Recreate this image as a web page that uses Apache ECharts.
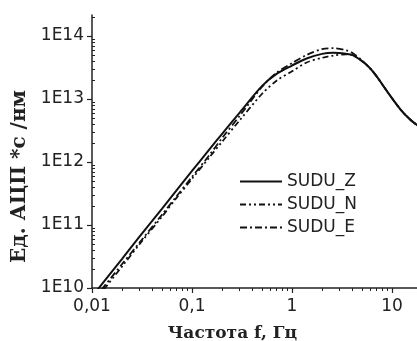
<!DOCTYPE html>
<html>
<head>
<meta charset="utf-8">
<script src="https://cdn.jsdelivr.net/npm/echarts@6/dist/echarts.min.js"></script>
<style>
  html, body { margin: 0; padding: 0; background: #fff; }
  #chart { width: 417px; height: 341px; }
</style>
</head>
<body>
<div id="chart"></div>
<script>
// frequency, Hz
const freq = [0.01, 0.02, 0.03, 0.05, 0.07, 0.1, 0.15, 0.2, 0.3, 0.5, 0.7, 1, 1.4, 2, 2.6, 3.5, 4, 5, 6, 7, 9, 12, 15, 18]
const sudZ = [7.3e9, 2.9e10, 6.6e10, 1.8e11, 3.55e11, 7.2e11, 1.6e12, 2.8e12, 6.1e12, 1.6e13, 2.5e13, 3.4e13, 4.4e13, 5.2e13, 5.4e13, 5.2e13, 5.0e13, 4.0e13, 3.1e13, 2.3e13, 1.3e13, 7.0e12, 4.8e12, 3.8e12]
const sudN = [5.5e9, 2.2e10, 5.0e10, 1.35e11, 2.7e11, 5.4e11, 1.2e12, 2.1e12, 4.6e12, 1.2e13, 1.95e13, 2.75e13, 3.8e13, 4.5e13, 4.9e13, 5.1e13, 5.0e13, 4.0e13, 3.1e13, 2.3e13, 1.3e13, 7.0e12, 4.8e12, 3.8e12]
const sudE = [6.1e9, 2.4e10, 5.3e10, 1.45e11, 2.85e11, 5.8e11, 1.3e12, 2.4e12, 5.4e12, 1.55e13, 2.6e13, 3.7e13, 5.0e13, 6.2e13, 6.4e13, 5.9e13, 5.4e13, 4.1e13, 3.1e13, 2.3e13, 1.3e13, 7.0e12, 4.8e12, 3.8e12]
const seriesNames = ['SUDU_Z', 'SUDU_N', 'SUDU_E']

// axis range (decades)
const xMinExp = -2
const xMaxExp = 1.25
const yMinExp = 10
const yMaxExp = 14.3333

// log minor ticks 2..9 in each decade (in log10 units)
function minorTicks (lo, hi) {
  const out = []
  for (let d = Math.floor(lo); d <= Math.ceil(hi); d++) {
    for (let k = 2; k <= 9; k++) {
      const v = d + Math.log10(k)
      if (v > lo && v < hi) out.push(v)
    }
  }
  return out
}

const pairs = vals => freq.map((f, i) => [f, vals[i]])

const chart = echarts.init(document.getElementById('chart'))

const axisColor = '#222'
const tickFont = { fontFamily: 'DejaVu Sans', fontSize: 17, color: '#222' }
const nameFont = { fontFamily: 'DejaVu Serif', fontWeight: 'bold', color: '#222' }

chart.setOption({
  animation: false,
  grid: {
    left: 92,
    right: 0,
    top: 15,
    bottom: 53,
    outerBoundsMode: 'none'
  },
  legend: {
    orient: 'vertical',
    left: 234,
    top: 168,
    itemWidth: 42,
    itemHeight: 12,
    itemGap: 6,
    data: seriesNames,
    itemStyle: { opacity: 0 },
    textStyle: { fontFamily: 'DejaVu Sans', fontSize: 17, color: '#222', lineHeight: 17 }
  },
  xAxis: [
    {
      type: 'log',
      min: Math.pow(10, xMinExp),
      max: Math.pow(10, xMaxExp),
      name: 'Частота f, Гц',
      nameLocation: 'middle',
      nameGap: 37,
      nameTextStyle: Object.assign({ fontSize: 17, padding: [0, 44, 0, 0] }, nameFont),
      axisLine: { onZero: false, lineStyle: { color: axisColor, width: 1.5 } },
      axisTick: { show: true, inside: false, length: 5, lineStyle: { color: axisColor, width: 1.2 } },
      splitLine: { show: false },
      axisLabel: Object.assign({
        margin: 10,
        showMaxLabel: false,
        formatter: v => String(v).replace('.', ',')
      }, tickFont)
    },
    {
      type: 'value',
      position: 'bottom',
      min: xMinExp,
      max: xMaxExp,
      axisLine: { show: false, onZero: false },
      axisLabel: { show: false },
      splitLine: { show: false },
      axisTick: { show: true, inside: false, length: 3, customValues: minorTicks(xMinExp, xMaxExp), lineStyle: { color: axisColor, width: 1 } }
    }
  ],
  yAxis: [
    {
      type: 'log',
      min: Math.pow(10, yMinExp),
      max: Math.pow(10, yMaxExp),
      name: 'Ед. АЦП *с /нм',
      nameLocation: 'middle',
      nameRotate: 90,
      nameGap: 49,
      nameTextStyle: Object.assign({ fontSize: 20, padding: [0, 50, 0, 0] }, nameFont),
      axisLine: { onZero: false, lineStyle: { color: axisColor, width: 1.5 } },
      axisTick: { show: true, inside: false, length: 5, lineStyle: { color: axisColor, width: 1.2 } },
      splitLine: { show: false },
      axisLabel: Object.assign({
        margin: 8,
        showMaxLabel: false,
        formatter: v => '1E' + Math.round(Math.log10(v))
      }, tickFont)
    },
    {
      type: 'value',
      position: 'left',
      min: yMinExp,
      max: yMaxExp,
      axisLine: { show: false, onZero: false },
      axisLabel: { show: false },
      splitLine: { show: false },
      axisTick: { show: true, inside: true, length: 3, customValues: minorTicks(yMinExp, yMaxExp), lineStyle: { color: axisColor, width: 1 } }
    }
  ],
  series: [
    {
      name: seriesNames[0],
      type: 'line',
      data: pairs(sudZ),
      smooth: 0.3,
      symbol: 'none',
      lineStyle: { color: '#111', width: 2 },
      itemStyle: { color: '#111' }
    },
    {
      name: seriesNames[1],
      type: 'line',
      data: pairs(sudN),
      smooth: 0.3,
      symbol: 'none',
      lineStyle: { color: '#111', width: 1.8, type: [6, 3, 2, 3, 2, 3] },
      itemStyle: { color: '#111' }
    },
    {
      name: seriesNames[2],
      type: 'line',
      data: pairs(sudE),
      smooth: 0.3,
      symbol: 'none',
      lineStyle: { color: '#111', width: 1.8, type: [7, 3, 2, 3] },
      itemStyle: { color: '#111' }
    }
  ]
})

window.addEventListener('resize', function () {
  chart.resize()
})
</script>
</body>
</html>
